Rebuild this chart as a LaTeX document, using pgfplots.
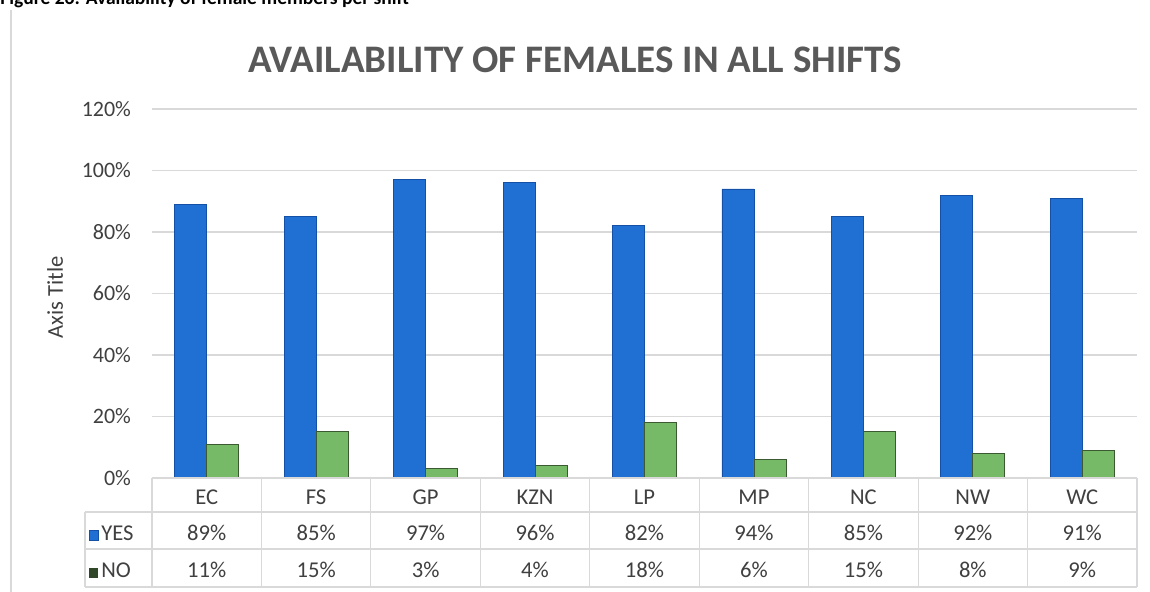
\documentclass[border=0pt]{standalone}
\usepackage{pgfplots}
\pgfplotsset{compat=1.18}
\usepackage{pgfplotstable}
\usepackage{fontspec}
\setmainfont{Carlito}

\definecolor{barblue}{RGB}{32,112,212}
\definecolor{barblueedge}{RGB}{20,80,165}
\definecolor{bargreen}{RGB}{118,186,104}
\definecolor{bargreenedge}{RGB}{60,90,50}
\definecolor{txtgray}{RGB}{64,64,64}
\definecolor{titlegray}{RGB}{89,89,89}
\definecolor{gridgray}{RGB}{217,217,217}

\pgfplotstableread{
idx cat yes no
0 EC  89 11
1 FS  85 15
2 GP  97 3
3 KZN 96 4
4 LP  82 18
5 MP  94 6
6 NC  85 15
7 NW  92 8
8 WC  91 9
}\data

\newcommand{\tbl}{\fontsize{11.3}{13}\selectfont\color{txtgray}}

\begin{document}
\begin{tikzpicture}
\useasboundingbox (0,0) rectangle (575pt,296pt);
\node[anchor=base west, inner sep=0pt, font=\bfseries\fontsize{9.75}{12}\selectfont] at (0pt,293.5pt) {Figure 26: Availability of female members per shift};
\draw[gridgray, line width=0.6pt] (5.5pt,0pt) -- (5.5pt,291pt);
\node[font=\bfseries\fontsize{19.5}{23}\selectfont, text=titlegray] at (287.5pt,266pt) {AVAILABILITY OF FEMALES IN ALL SHIFTS};
\begin{axis}[
  at={(76pt,57pt)}, anchor=south west,
  scale only axis, width=492.5pt, height=184.5pt,
  xmin=-0.5, xmax=8.5, ymin=0, ymax=120,
  ybar=0pt, bar width=16pt,
  xtick=\empty,
  ytick={0,20,...,120},
  yticklabel={\pgfmathprintnumber{\tick}\%},
  /pgf/number format/assume math mode=true,
  yticklabel style={font=\fontsize{11}{13}\selectfont, text=txtgray, xshift=-7pt},
  major tick length=0pt,
  ymajorgrids, grid style={gridgray, line width=0.6pt},
  axis line style={draw=none},
  ylabel={Axis Title},
  every axis y label/.style={at={([xshift=-48.5pt,yshift=-2pt]rel axis cs:0,0.5)}, rotate=90, anchor=center, font=\fontsize{11.3}{13}\selectfont, text=txtgray},
  clip=false,
]
\addplot[fill=barblue, draw=barblueedge] table[x=idx, y=yes] {\data};
\addplot[fill=bargreen, draw=bargreenedge] table[x=idx, y=no] {\data};

% data table grid
\draw[gridgray, line width=0.6pt] (axis cs:-0.5,0) -- (axis cs:8.5,0);
\draw[gridgray, line width=0.6pt] ([xshift=-33.5pt,yshift=-17pt]axis cs:-0.5,0) -- ([yshift=-17pt]axis cs:8.5,0);
\draw[gridgray, line width=0.6pt] ([xshift=-33.5pt,yshift=-35.5pt]axis cs:-0.5,0) -- ([yshift=-35.5pt]axis cs:8.5,0);
\draw[gridgray, line width=0.6pt] ([xshift=-33.5pt,yshift=-54.5pt]axis cs:-0.5,0) -- ([yshift=-54.5pt]axis cs:8.5,0);
\draw[gridgray, line width=0.6pt] ([xshift=-33.5pt,yshift=-17pt]axis cs:-0.5,0) -- ([xshift=-33.5pt,yshift=-54.5pt]axis cs:-0.5,0);
\pgfplotsinvokeforeach{-0.5,0.5,1.5,2.5,3.5,4.5,5.5,6.5,7.5,8.5}{
  \draw[gridgray, line width=0.6pt] (axis cs:#1,0) -- ([yshift=-54.5pt]axis cs:#1,0);
}
% row headers
\fill[barblue, draw=barblueedge] ([xshift=-31.5pt,yshift=-31.3pt]axis cs:-0.5,0) rectangle ([xshift=-27pt,yshift=-26.3pt]axis cs:-0.5,0);
\fill[bargreenedge!80!black] ([xshift=-31.5pt,yshift=-49.8pt]axis cs:-0.5,0) rectangle ([xshift=-27pt,yshift=-44.8pt]axis cs:-0.5,0);
\node[anchor=base west, inner sep=0pt, font=\tbl] at ([xshift=-25.5pt,yshift=-31.1pt]axis cs:-0.5,0) {YES};
\node[anchor=base west, inner sep=0pt, font=\tbl] at ([xshift=-25.5pt,yshift=-49.6pt]axis cs:-0.5,0) {NO};
% cells
\pgfplotsinvokeforeach{0,...,8}{
  \node[anchor=base, inner sep=0pt, font=\tbl] at ([yshift=-13.1pt]axis cs:#1,0) {\pgfplotstablegetelem{#1}{cat}\of\data\pgfplotsretval};
  \node[anchor=base, inner sep=0pt, font=\tbl] at ([yshift=-31.1pt]axis cs:#1,0) {\pgfplotstablegetelem{#1}{yes}\of\data\pgfplotsretval\%};
  \node[anchor=base, inner sep=0pt, font=\tbl] at ([yshift=-49.6pt]axis cs:#1,0) {\pgfplotstablegetelem{#1}{no}\of\data\pgfplotsretval\%};
}
\end{axis}
\end{tikzpicture}
\end{document}
